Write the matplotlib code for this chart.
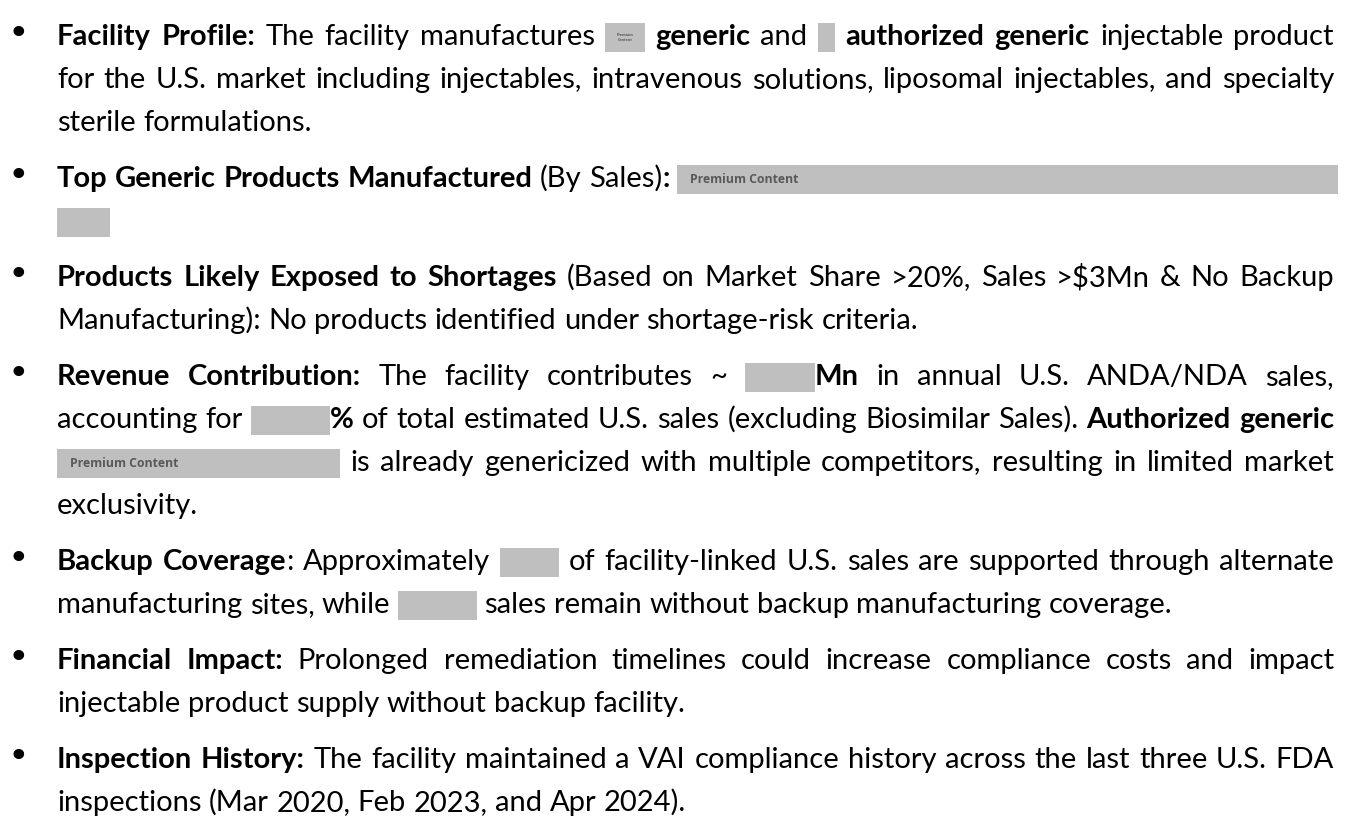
import matplotlib.pyplot as plt
from matplotlib.patches import Rectangle

# ---- content: one list per printed line, runs are (style, text) ----
# 'n' normal, 'b' bold, 'box' grey redaction box (value is the box key)
para_profile = [
    [('b', 'Facility Profile:'), ('n', ' The facility manufactures '), ('box', 'a'),
     ('n', ' '), ('b', 'generic'), ('n', ' and '), ('box', 'b'), ('n', ' '),
     ('b', 'authorized generic'), ('n', ' injectable product')],
    [('n', 'for the U.S. market including injectables, intravenous solutions, '
           'liposomal injectables, and specialty')],
    [('n', 'sterile formulations.')],
]
para_top = [
    [('b', 'Top Generic Products Manufactured'), ('n', ' (By Sales)'), ('b', ':'),
     ('n', ' '), ('box', 'c')],
    [('box', 'c2')],
]
para_shortage = [
    [('b', 'Products Likely Exposed to Shortages'),
     ('n', ' (Based on Market Share >20%, Sales >$3Mn & No Backup')],
    [('n', 'Manufacturing): No products identified under shortage-risk criteria.')],
]
para_revenue = [
    [('b', 'Revenue Contribution:'), ('n', ' The facility contributes ~ '), ('box', 'd'),
     ('b', 'Mn'), ('n', ' in annual U.S. ANDA/NDA sales,')],
    [('n', 'accounting for '), ('box', 'e'), ('b', '%'),
     ('n', ' of total estimated U.S. sales (excluding Biosimilar Sales). '),
     ('b', 'Authorized generic')],
    [('box', 'f'), ('n', ' is already genericized with multiple competitors, '
                         'resulting in limited market')],
    [('n', 'exclusivity.')],
]
para_backup = [
    [('b', 'Backup Coverage'), ('n', ': Approximately '), ('box', 'g'),
     ('n', ' of facility-linked U.S. sales are supported through alternate')],
    [('n', 'manufacturing sites, while '), ('box', 'h'),
     ('n', ' sales remain without backup manufacturing coverage.')],
]
para_financial = [
    [('b', 'Financial Impact:'), ('n', ' Prolonged remediation timelines could '
                                       'increase compliance costs and impact')],
    [('n', 'injectable product supply without backup facility.')],
]
para_inspection = [
    [('b', 'Inspection History:'), ('n', ' The facility maintained a VAI compliance '
                                         'history across the last three U.S. FDA')],
    [('n', 'inspections (Mar 2020, Feb 2023, and Apr 2024).')],
]
paragraphs = [para_profile, para_top, para_shortage, para_revenue,
              para_backup, para_financial, para_inspection]

box_labels = {'a': 'Premium\nContent', 'c': 'Premium Content', 'f': 'Premium Content'}

# ---- layout / style ----
W, H = 1346, 830
FONT = 'Lato'
BULLET_X, LEFT, RIGHT = 18, 57, 1334
FIRST_BASE, LINE_STEP, PARA_STEP = 45, 43, 56
BOX_EM = {'a': 1.35, 'b': 0.58, 'c2': 1.8, 'd': 2.4, 'e': 2.7,
          'f': 9.7, 'g': 2.05, 'h': 2.7}
BOX_COLOR = '#bfbfbf'
LABEL_COLOR = '#595959'

fig = plt.figure(figsize=(W / 100, H / 100), dpi=100)
ax = fig.add_axes([0, 0, 1, 1])
ax.set_xlim(0, W)
ax.set_ylim(H, 0)
ax.axis('off')
renderer = fig.canvas.get_renderer()


def text_w(s, bold, fs):
    t = ax.text(0, 0, s, fontsize=fs, family=FONT,
                fontweight='bold' if bold else 'normal')
    w = t.get_window_extent(renderer).width
    t.remove()
    return w


def words_of(line):
    words, cur = [], []
    for style, txt in line:
        if style == 'box':
            cur.append((style, txt))
            continue
        for i, p in enumerate(txt.split(' ')):
            if i > 0 and cur:
                words.append(cur)
                cur = []
            if p:
                cur.append((style, p))
    if cur:
        words.append(cur)
    return words


def piece_w(piece, fs):
    style, txt = piece
    em = fs * 100 / 72
    if style == 'box':
        return BOX_EM.get(txt, 0) * em
    return text_w(txt, style == 'b', fs)


def is_justified(para, i):
    # every line but the last of a paragraph is justified, except the fill-box line
    return i < len(para) - 1 and not any(s == 'box' and t == 'c' for s, t in para[i])


# pick font size so the tightest justified line just fills the measure
fs0 = 20
need = 0
for para in paragraphs:
    for i, line in enumerate(para):
        if is_justified(para, i):
            ws = words_of(line)
            sp = text_w('n n', False, fs0) - text_w('nn', False, fs0)
            tot = sum(piece_w(p, fs0) for w in ws for p in w) + sp * (len(ws) - 1)
            need = max(need, tot)
FS = fs0 * (RIGHT - LEFT) / need * 0.995
EM = FS * 100 / 72
SPACE = text_w('n n', False, FS) - text_w('nn', False, FS)

base = FIRST_BASE
for para in paragraphs:
    ax.text(BULLET_X, base - 0.02 * EM, '\u2022', fontsize=FS * 1.25,
            family='DejaVu Sans', ha='center', va='baseline', color='black')
    for i, line in enumerate(para):
        ws = words_of(line)
        widths = [[piece_w(p, FS) for p in w] for w in ws]
        total = sum(sum(w) for w in widths)
        if is_justified(para, i) and len(ws) > 1:
            gap = (RIGHT - LEFT - total) / (len(ws) - 1)
        else:
            gap = SPACE
        x = LEFT
        for w, wl in zip(ws, widths):
            for (style, txt), pw in zip(w, wl):
                if style == 'box':
                    bw = RIGHT + 4 - x if txt == 'c' else pw
                    ax.add_patch(Rectangle((x, base - 0.76 * EM), bw, 1.0 * EM,
                                           facecolor=BOX_COLOR, lw=0))
                    lab = box_labels.get(txt)
                    if txt == 'a':
                        ax.text(x + bw / 2, base - 0.26 * EM, lab, fontsize=FS * 0.13,
                                family='Open Sans', fontweight='bold', color=LABEL_COLOR,
                                ha='center', va='center', linespacing=1.1)
                    elif lab:
                        ax.text(x + 0.45 * EM, base - 0.26 * EM, lab, fontsize=FS * 0.42,
                                family='Open Sans', fontweight='bold', color=LABEL_COLOR,
                                ha='left', va='center')
                    x += bw
                else:
                    ax.text(x, base, txt, fontsize=FS, family=FONT, color='black',
                            fontweight='bold' if style == 'b' else 'normal',
                            ha='left', va='baseline')
                    x += pw
            x += gap
        base += LINE_STEP
    base += PARA_STEP - LINE_STEP

fig.savefig('out.png', dpi=100, facecolor='white')
